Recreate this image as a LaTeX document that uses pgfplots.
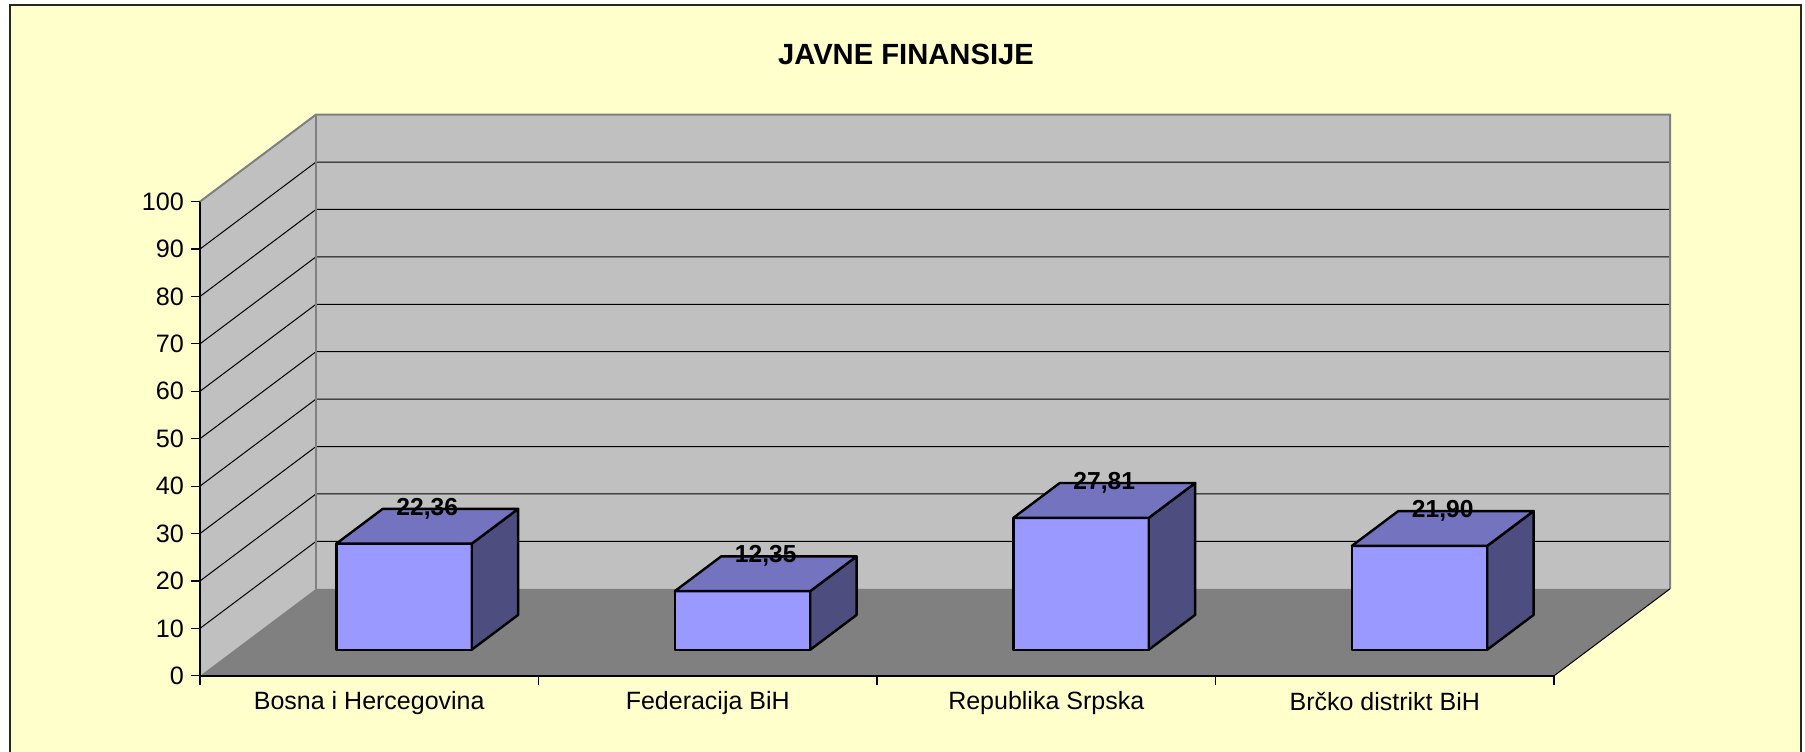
\documentclass[border=0pt]{standalone}
\usepackage{fontspec}
\setmainfont{Liberation Sans}
\usepackage{pgfplots}
\pgfplotsset{compat=1.18}

\definecolor{bgyellow}{HTML}{FFFFCC}
\definecolor{wallgray}{HTML}{C0C0C0}
\definecolor{floorgray}{HTML}{808080}
\definecolor{barfront}{HTML}{9999FF}
\definecolor{bartop}{HTML}{7373BF}
\definecolor{barside}{HTML}{4D4D80}

% one 3-D column: left x, centre x, right x, value
\newcommand{\cuboid}[4]{%
  \addplot3[fill=barfront, draw=black, line width=1.2pt, line join=round, mark=none]
    coordinates {(#1,0.3,0) (#3,0.3,0) (#3,0.3,#4) (#1,0.3,#4)} -- cycle;
  \addplot3[fill=barside, draw=black, line width=1.2pt, line join=round, mark=none]
    coordinates {(#3,0.3,0) (#3,0.7,0) (#3,0.7,#4) (#3,0.3,#4)} -- cycle;
  \addplot3[fill=bartop, draw=black, line width=1.2pt, line join=round, mark=none]
    coordinates {(#1,0.3,#4) (#3,0.3,#4) (#3,0.7,#4) (#1,0.7,#4)} -- cycle;
  \addplot3[draw=none, mark=none, point meta=z,
    nodes near coords={\pgfmathprintnumber[fixed,fixed zerofill,precision=2,use comma]{\pgfplotspointmeta}},
    every node near coord/.append style={anchor=center, yshift=8.75pt,
      font=\bfseries\fontsize{12.3}{14}\selectfont, text=black}]
    coordinates {(#2,0.5,#4)};
}

\begin{document}
\begin{tikzpicture}
\useasboundingbox (0pt,0pt) rectangle (902.5pt,375.5pt);
\fill[white] (0pt,0pt) rectangle (902.5pt,375.5pt);
\fill[bgyellow] (5pt,-5pt) rectangle (900.5pt,373pt);
\draw[black!85, line width=1pt] (5pt,-5pt) rectangle (900.5pt,373pt);

% walls, floor and columns
\begin{axis}[
  at={(100pt,37.6pt)}, anchor=origin,
  x={(169.25pt,0pt)}, y={(58pt,43.5pt)}, z={(0pt,2.371pt)},
  xmin=0, xmax=4, ymin=0, ymax=1, zmin=0, zmax=100,
  hide axis, clip=false,
  /pgf/number format/assume math mode=true,
]
\fill[wallgray] (axis cs:0,0,0) -- (axis cs:0,1,0) -- (axis cs:0,1,100) -- (axis cs:0,0,100) -- cycle;
\fill[wallgray] (axis cs:0,1,0) -- (axis cs:4,1,0) -- (axis cs:4,1,100) -- (axis cs:0,1,100) -- cycle;
\fill[floorgray] (axis cs:0,0,0) -- (axis cs:4,0,0) -- (axis cs:4,1,0) -- (axis cs:0,1,0) -- cycle;
\pgfplotsinvokeforeach{10,20,...,90}{
  \draw[black, line width=0.5pt] (axis cs:0,0,#1) -- (axis cs:0,1,#1) -- (axis cs:4,1,#1);
}
\draw[floorgray, line width=1pt] (axis cs:0,0,100) -- (axis cs:0,1,100) -- (axis cs:4,1,100) -- (axis cs:4,1,0);
\draw[floorgray, line width=1pt] (axis cs:0,1,0) -- (axis cs:0,1,100);
\draw[black, line width=0.5pt] (axis cs:4,0,0) -- (axis cs:4,1,0);

\cuboid{0.3}{0.5}{0.7}{22.36}
\cuboid{1.3}{1.5}{1.7}{12.35}
\cuboid{2.3}{2.5}{2.7}{27.81}
\cuboid{3.3}{3.5}{3.7}{21.90}
\end{axis}

% front axes with ticks and labels
\begin{axis}[
  at={(100pt,37.6pt)}, anchor=origin,
  x={(169.25pt,0pt)}, y={(0pt,2.371pt)},
  xmin=0, xmax=4, ymin=0, ymax=100,
  axis lines*=left,
  axis line style={black, line width=0.9pt},
  xtick={0,...,4},
  x tick label as interval,
  xticklabels={Bosna i Hercegovina, Federacija BiH, Republika Srpska, Brčko distrikt BiH},
  ytick={0,10,...,100},
  tick align=outside,
  major tick length=4.5pt,
  tick style={black, line width=0.6pt},
  /pgf/number format/assume math mode=true,
  yticklabel style={font=\fontsize{12.6}{15}\selectfont},
  xticklabel style={font=\fontsize{12.5}{15}\selectfont},
]
\end{axis}

\node[font=\bfseries\fontsize{14.6}{17}\selectfont] at (453pt,348.25pt) {JAVNE FINANSIJE};
\end{tikzpicture}
\end{document}
